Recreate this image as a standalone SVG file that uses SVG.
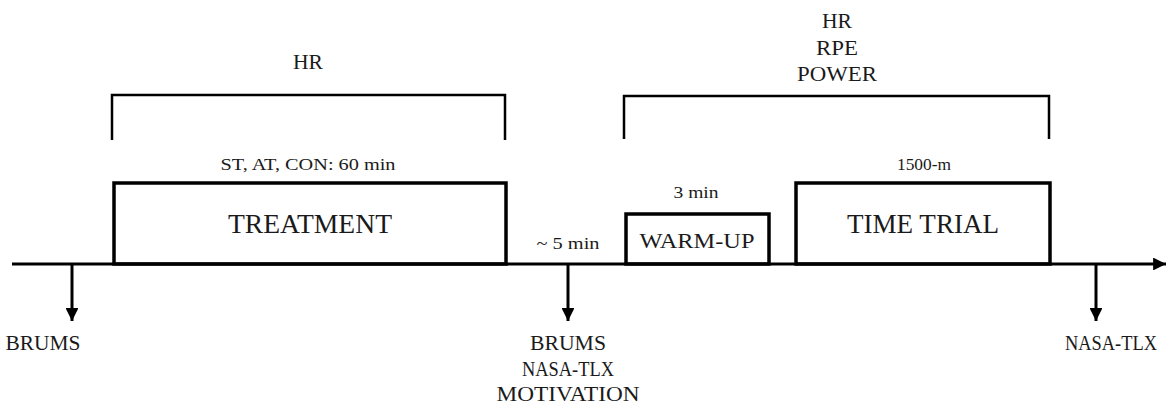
<svg xmlns="http://www.w3.org/2000/svg" width="1167" height="406" viewBox="0 0 1167 406">
  <style>
    text { font-family: "Liberation Serif", "Times New Roman", serif; fill: #1a1a1a; text-anchor: middle; }
    .lbl { font-size: 20px; }
    .sm { font-size: 17px; }
    .big { font-size: 27px; }
    .mid { font-size: 22px; }
    .edge { font-size: 20px; }
    .box { fill: #ffffff; stroke: #000000; stroke-width: 3.5; }
    .brk { fill: none; stroke: #000000; stroke-width: 2.5; }
    .axis { stroke: #000000; stroke-width: 3; fill: none; }
  </style>
  <defs>
    <marker id="head" viewBox="0 0 10 10" refX="10" refY="5" markerWidth="4.3" markerHeight="4.3" orient="auto" markerUnits="strokeWidth">
      <path d="M0,0 L10,5 L0,10 Z" fill="#000000"/>
    </marker>
  </defs>

  <rect width="1167" height="406" fill="#ffffff"/>

  <!-- measurement brackets -->
  <g id="bracket-treatment">
    <path class="brk" d="M112,140 V95 H505 V140"/>
    <text class="lbl" x="308" y="69" textLength="30" lengthAdjust="spacingAndGlyphs">HR</text>
  </g>
  <g id="bracket-trial">
    <path class="brk" d="M624,139 V96 H1049 V139"/>
    <text class="lbl" x="837" y="28" textLength="30" lengthAdjust="spacingAndGlyphs">HR</text>
    <text class="lbl" x="837" y="55" textLength="42" lengthAdjust="spacingAndGlyphs">RPE</text>
    <text class="lbl" x="837" y="81" textLength="80" lengthAdjust="spacingAndGlyphs">POWER</text>
  </g>

  <!-- phases -->
  <g id="treatment">
    <text class="sm" x="308" y="170" textLength="175" lengthAdjust="spacingAndGlyphs">ST, AT, CON:  60 min</text>
    <rect class="box" x="114" y="183" width="392" height="81"/>
    <text class="big" x="310" y="233" textLength="164" lengthAdjust="spacingAndGlyphs">TREATMENT</text>
  </g>
  <g id="warm-up">
    <text class="sm" x="696" y="198" textLength="45" lengthAdjust="spacingAndGlyphs">3 min</text>
    <rect class="box" x="626" y="214" width="143" height="50"/>
    <text class="mid" x="697" y="248" textLength="115" lengthAdjust="spacingAndGlyphs">WARM-UP</text>
  </g>
  <g id="time-trial">
    <text class="sm" x="924" y="170" textLength="54" lengthAdjust="spacingAndGlyphs">1500-m</text>
    <rect class="box" x="796" y="183" width="254" height="81"/>
    <text class="big" x="923" y="233" textLength="152" lengthAdjust="spacingAndGlyphs">TIME TRIAL</text>
  </g>
  <g id="gap">
    <text class="sm" x="568" y="249" textLength="63" lengthAdjust="spacingAndGlyphs">~ 5 min</text>
  </g>

  <!-- timeline and measurement points -->
  <g id="connectors">
    <line class="axis" x1="12" y1="264" x2="1166" y2="264" marker-end="url(#head)"/>
    <line class="axis" x1="72" y1="264" x2="72" y2="321" marker-end="url(#head)"/>
    <line class="axis" x1="568" y1="264" x2="568" y2="321" marker-end="url(#head)"/>
    <line class="axis" x1="1096" y1="264" x2="1096" y2="321" marker-end="url(#head)"/>
  </g>

  <g id="pre">
    <text class="mid" x="43" y="350" textLength="75" lengthAdjust="spacingAndGlyphs">BRUMS</text>
  </g>
  <g id="post-treatment">
    <text class="mid" x="568" y="350" textLength="76" lengthAdjust="spacingAndGlyphs">BRUMS</text>
    <text class="mid" x="568" y="376" textLength="92" lengthAdjust="spacingAndGlyphs">NASA-TLX</text>
    <text class="mid" x="568" y="401" textLength="143" lengthAdjust="spacingAndGlyphs">MOTIVATION</text>
  </g>
  <g id="post-trial">
    <text class="edge" x="1111" y="350" textLength="92" lengthAdjust="spacingAndGlyphs">NASA-TLX</text>
  </g>
</svg>
